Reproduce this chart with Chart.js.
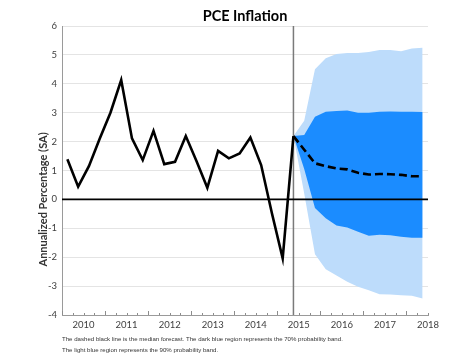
<!DOCTYPE html>
<html>
<head>
<meta charset="utf-8">
<script src="https://cdn.jsdelivr.net/npm/chart.js@4"></script>
<style>
    body { margin: 0; background: #fff; }
    #wrap { position: relative; width: 472px; height: 354px; }
</style>
</head>
<body>
<div id="wrap"><canvas id="pceChart" width="472" height="354"></canvas></div>
<script>
// quarterly history (annualized PCE inflation)
const histQuarters = ['2010Q1', '2010Q2', '2010Q3', '2010Q4', '2011Q1', '2011Q2', '2011Q3', '2011Q4',
    '2012Q1', '2012Q2', '2012Q3', '2012Q4', '2013Q1', '2013Q2', '2013Q3', '2013Q4',
    '2014Q1', '2014Q2', '2014Q3', '2014Q4', '2015Q1', '2015Q2'];
const histValues = [1.39, 0.44, 1.15, 2.1, 3.0, 4.13, 2.11, 1.36, 2.37, 1.22, 1.3, 2.19,
    1.32, 0.4, 1.68, 1.42, 1.59, 2.14, 1.19, -0.48, -2.04, 2.19];

// forecast quarters and bands
const fcQuarters = ['2015Q2', '2015Q3', '2015Q4', '2016Q1', '2016Q2', '2016Q3', '2016Q4',
    '2017Q1', '2017Q2', '2017Q3', '2017Q4', '2018Q1', '2018Q2'];
const median = [2.19, 1.72, 1.25, 1.15, 1.07, 1.04, 0.92, 0.86, 0.88, 0.87, 0.85, 0.8, 0.8];
const band70Upper = [2.19, 2.23, 2.86, 3.03, 3.06, 3.08, 3.0, 3.0, 3.03, 3.04, 3.03, 3.03, 3.02];
const band70Lower = [2.19, 1.05, -0.3, -0.65, -0.9, -0.97, -1.12, -1.26, -1.22, -1.24, -1.29, -1.33, -1.33];
const band90Upper = [2.19, 2.72, 4.5, 4.88, 5.03, 5.07, 5.07, 5.1, 5.17, 5.17, 5.13, 5.22, 5.25];
const band90Lower = [2.19, 0.2, -1.9, -2.42, -2.63, -2.85, -3.02, -3.14, -3.28, -3.29, -3.32, -3.33, -3.43];

const yearLabels = [2010, 2011, 2012, 2013, 2014, 2015, 2016, 2017, 2018];
const xMin = 2010, xMax = 2018.5;
const yMin = -4, yMax = 6;

const lastActual = '2015Q2';

// '2012Q3' -> middle of that quarter in decimal years
function qx(q) {
    const parts = q.split('Q');
    return Number(parts[0]) + (Number(parts[1]) - 0.5) / 4;
}

function toPoints(quarters, values) {
    return quarters.map((q, i) => ({ x: qx(q), y: values[i] }));
}

const LIGHT_BLUE = 'rgb(189, 220, 251)';
const DARK_BLUE = 'rgb(27, 140, 255)';
const FONT = 'Lato';

// title, y axis title, footnote and small inside ticks on the x axis
const decorPlugin = {
    id: 'decor',
    afterDraw(chart) {
        const ctx = chart.ctx;
        const area = chart.chartArea;
        const xs = chart.scales.x;
        ctx.save();

        // quarter ticks pointing into the plot
        ctx.strokeStyle = '#8c8c8c';
        ctx.lineWidth = 1;
        for (let yr = xMin; yr <= xMax; yr += 0.25) {
            const px = Math.round(xs.getPixelForValue(yr)) + 0.5;
            const len = (yr % 1 === 0) ? 4 : 2;
            ctx.beginPath();
            ctx.moveTo(px, area.bottom);
            ctx.lineTo(px, area.bottom - len);
            ctx.stroke();
        }

        ctx.fillStyle = '#000';
        ctx.font = 'bold 14.5px ' + FONT;
        ctx.textAlign = 'center';
        ctx.textBaseline = 'middle';
        ctx.fillText('PCE Inflation', (area.left + area.right) / 2, 16);

        ctx.save();
        ctx.translate(43, area.top + (area.bottom - area.top) * 0.6);
        ctx.rotate(-Math.PI / 2);
        ctx.fillStyle = '#333';
        ctx.font = 'bold 11px ' + FONT;
        ctx.fillText('Annualized Percentage (SA)', 0, 0);
        ctx.restore();

        ctx.fillStyle = '#333';
        ctx.font = '6.1px "Liberation Sans"';
        ctx.textAlign = 'left';
        ctx.fillText('The dashed black line is the median forecast. The dark blue region represents the 70% probability band.', 62, 339);
        ctx.fillText('The light blue region represents the 90% probability band.', 62, 350);
        ctx.restore();
    }
};

const ctx = document.getElementById('pceChart').getContext('2d');

new Chart(ctx, {
    type: 'line',
    data: {
        datasets: [
            {
                label: 'History',
                data: toPoints(histQuarters, histValues),
                borderColor: '#000',
                borderWidth: 2.6,
                order: 0
            },
            {
                label: 'Median forecast',
                data: toPoints(fcQuarters, median),
                borderColor: '#000',
                borderWidth: 2.6,
                borderDash: [8, 4],
                order: 1
            },
            {
                label: 'Zero',
                data: [{ x: xMin, y: 0 }, { x: xMax, y: 0 }],
                borderColor: '#000',
                borderWidth: 1.6,
                order: 2
            },
            {
                label: 'Forecast start',
                data: [{ x: qx(lastActual), y: yMin }, { x: qx(lastActual), y: yMax }],
                borderColor: '#7a7a7a',
                borderWidth: 1.5,
                order: 3
            },
            {
                label: '70% upper',
                data: toPoints(fcQuarters, band70Upper),
                borderWidth: 0,
                borderColor: DARK_BLUE,
                backgroundColor: DARK_BLUE,
                fill: '+1',
                order: 4
            },
            {
                label: '70% lower',
                data: toPoints(fcQuarters, band70Lower),
                borderWidth: 0,
                borderColor: DARK_BLUE,
                order: 4
            },
            {
                label: '90% upper',
                data: toPoints(fcQuarters, band90Upper),
                borderWidth: 0,
                borderColor: LIGHT_BLUE,
                backgroundColor: LIGHT_BLUE,
                fill: '+1',
                order: 6
            },
            {
                label: '90% lower',
                data: toPoints(fcQuarters, band90Lower),
                borderWidth: 0,
                borderColor: LIGHT_BLUE,
                order: 6
            }
        ]
    },
    options: {
        responsive: false,
        animation: false,
        layout: {
            padding: { left: 0, right: 44, top: 26, bottom: 0 }
        },
        elements: {
            point: { radius: 0 },
            line: { tension: 0 }
        },
        plugins: {
            legend: { display: false },
            tooltip: { enabled: false },
            title: { display: false }
        },
        scales: {
            x: {
                type: 'linear',
                min: xMin,
                max: xMax,
                afterFit: (scale) => { scale.height = 39; },
                afterBuildTicks: (scale) => {
                    scale.ticks = yearLabels.map(y => ({ value: y + 0.5 }));
                },
                ticks: {
                    padding: 4,
                    maxRotation: 0,
                    autoSkip: false,
                    color: '#404040',
                    font: { family: FONT, size: 9.5 },
                    callback: (value) => String(value - 0.5)
                },
                grid: { display: false, drawTicks: false },
                border: { display: true, color: '#9a9a9a', width: 1 }
            },
            y: {
                min: yMin,
                max: yMax,
                afterFit: (scale) => { scale.width = 62; },
                ticks: {
                    stepSize: 1,
                    padding: 5,
                    color: '#404040',
                    font: { family: FONT, size: 9.5 }
                },
                grid: { color: '#e4e4e4', lineWidth: 1, drawTicks: false },
                border: { display: true, color: '#9a9a9a', width: 1 }
            }
        }
    },
    plugins: [decorPlugin]
});
</script>
</body>
</html>
